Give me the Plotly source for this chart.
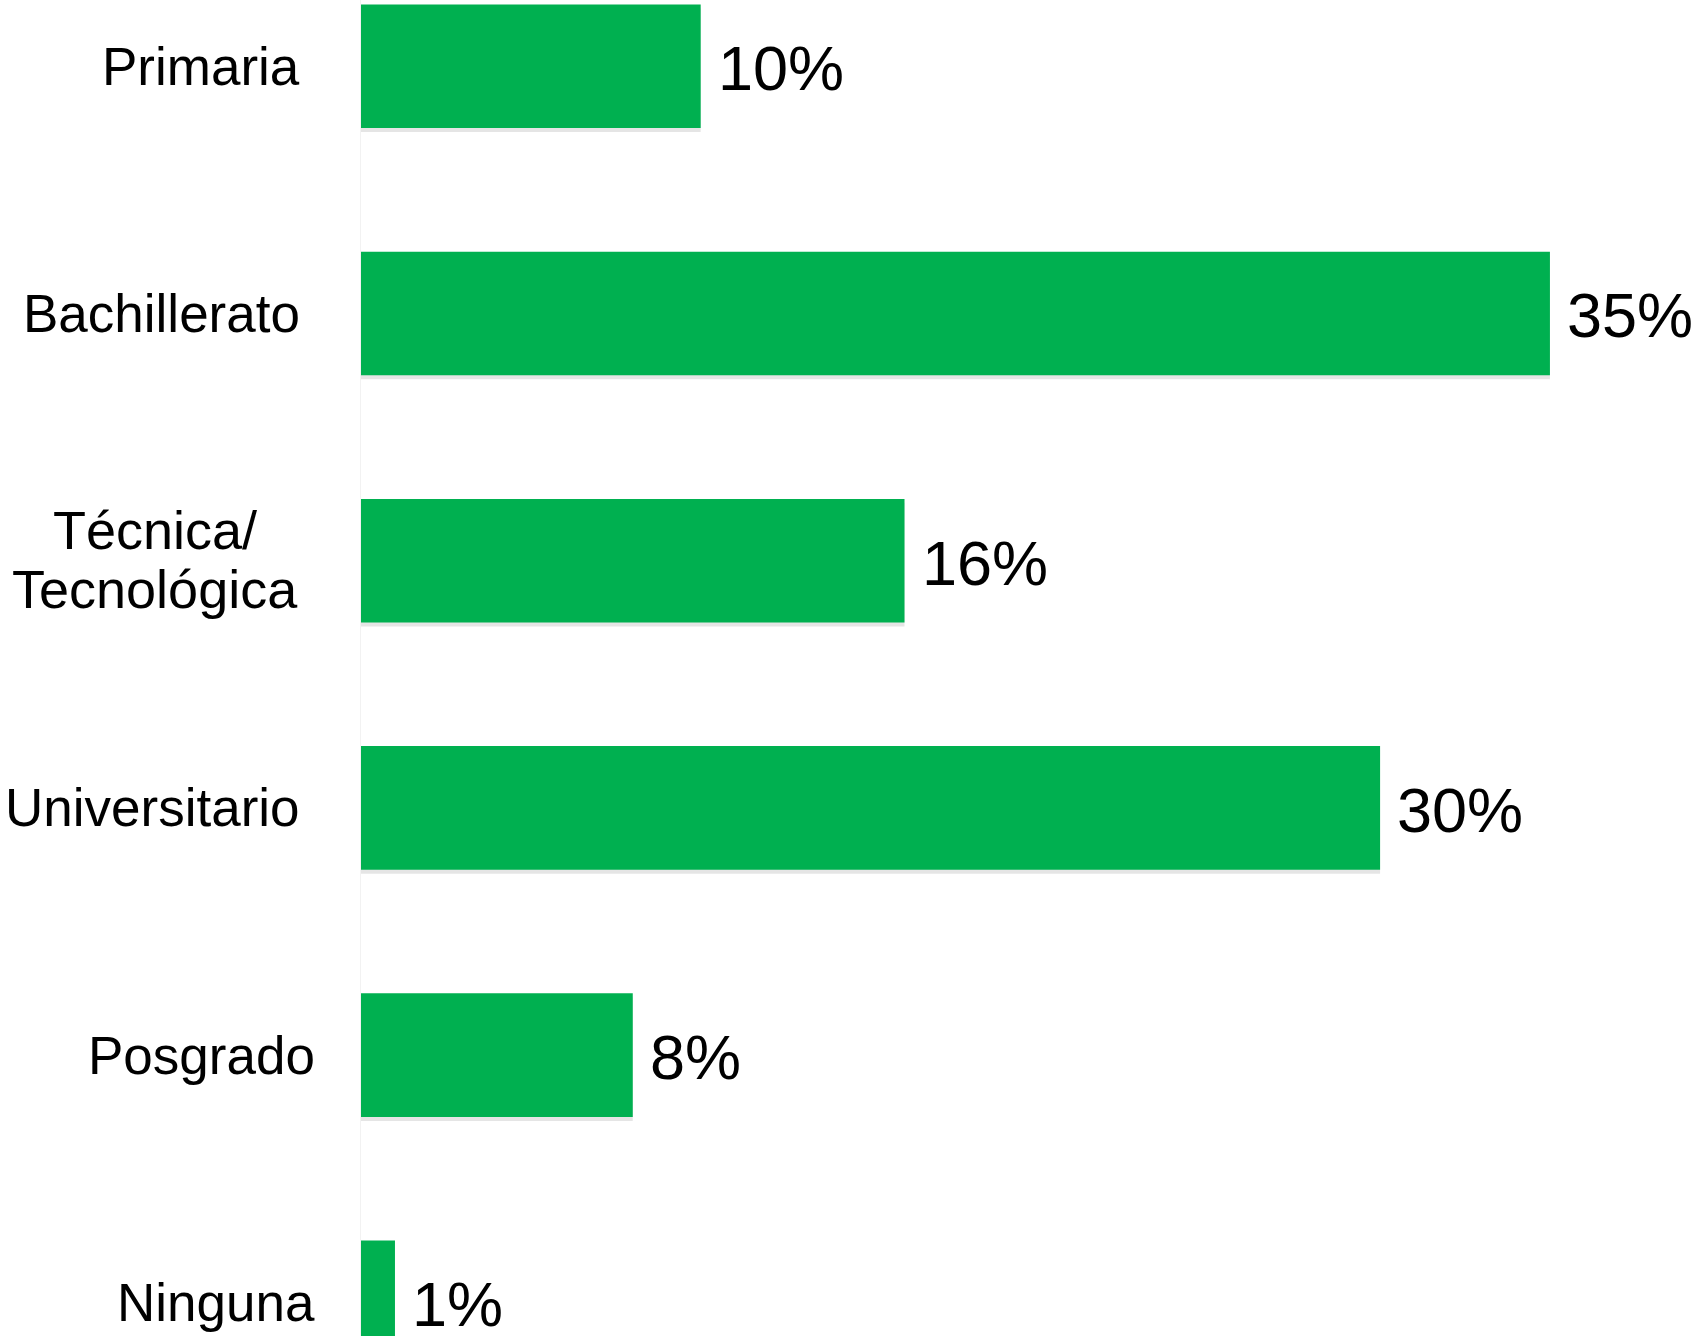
import plotly.graph_objects as go

categories = ["Primaria", "Bachillerato", "Técnica/<br>Tecnológica", "Universitario", "Posgrado", "Ninguna"]
values = [10, 35, 16, 30, 8, 1]
value_labels = ["10%", "35%", "16%", "30%", "8%", "1%"]

# style: gap (px) between each category label's right edge and the plot's left edge
label_gaps = [59, 59, 59, 59, 44, 44]
# style: for wrapped labels, horizontal shift of the centered block and line pitch
wrap_center_shift = -206
wrap_line_pitch = 59
wrap_block_lift = 1

GREEN = "#00B050"
FONT = "Liberation Sans, Arial, sans-serif"
idx = list(range(len(categories)))

fig = go.Figure()
# soft shadow under the bars
fig.add_trace(go.Bar(
    y=idx, x=values, orientation="h", width=0.5, offset=-0.25 + 0.016,
    marker=dict(color="rgba(0,0,0,0.10)", line=dict(width=0)), hoverinfo="skip",
))
fig.add_trace(go.Bar(
    y=idx, x=values, orientation="h", width=0.5, offset=-0.25,
    marker=dict(color=GREEN, line=dict(width=0)),
))

cat_font = dict(family=FONT, size=53, color="#000000")
annotations = []
for i, (cat, v, lab, gap) in enumerate(zip(categories, values, value_labels, label_gaps)):
    lines = cat.split("<br>")
    if len(lines) == 1:
        annotations.append(dict(
            x=0, xref="paper", y=i, yref="y", text=cat, showarrow=False,
            xanchor="right", yanchor="middle", xshift=-gap, font=cat_font,
        ))
    else:
        n = len(lines)
        for k, line in enumerate(lines):
            annotations.append(dict(
                x=0, xref="paper", y=i, yref="y", text=line, showarrow=False,
                xanchor="center", yanchor="middle", xshift=wrap_center_shift,
                yshift=((n - 1) / 2 - k) * wrap_line_pitch + wrap_block_lift,
                font=dict(family=FONT, size=54, color="#000000"),
            ))
    annotations.append(dict(
        x=v, xref="x", y=i, yref="y", text=lab, showarrow=False,
        xanchor="left", yanchor="middle", xshift=15, yshift=-2,
        font=dict(family=FONT, size=63, color="#000000"),
    ))

fig.update_layout(
    width=1696, height=1336,
    margin=dict(l=361, r=0, t=0, b=0),
    paper_bgcolor="white", plot_bgcolor="white",
    showlegend=False, barmode="overlay",
    annotations=annotations,
    xaxis=dict(range=[0, 39.3], visible=False, showgrid=False, zeroline=False),
    yaxis=dict(range=[5.136, -0.268], showticklabels=False, showgrid=False, zeroline=False,
               showline=True, linecolor="#F2F2F2", linewidth=1, ticks=""),
)

fig.write_html("out.html")
